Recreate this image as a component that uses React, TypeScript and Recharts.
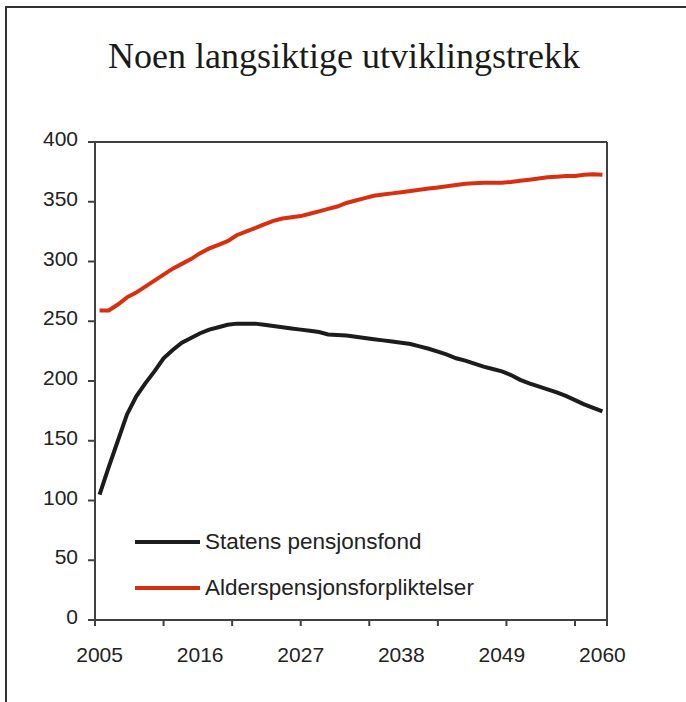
import { LineChart, Line, XAxis, YAxis, Legend, ReferenceLine } from 'recharts';

const YEARS = [
  2005, 2006, 2007, 2008, 2009, 2010, 2011, 2012, 2013, 2014,
  2015, 2016, 2017, 2018, 2019, 2020, 2021, 2022, 2023, 2024,
  2025, 2026, 2027, 2028, 2029, 2030, 2031, 2032, 2033, 2034,
  2035, 2036, 2037, 2038, 2039, 2040, 2041, 2042, 2043, 2044,
  2045, 2046, 2047, 2048, 2049, 2050, 2051, 2052, 2053, 2054,
  2055, 2056, 2057, 2058, 2059, 2060,
];

// Statens pensjonsfond
const SPF = [
  105, 128, 150, 172, 187, 198, 208, 219, 226, 232,
  236, 240, 243, 245, 247, 248, 248, 248, 247, 246,
  245, 244, 243, 242, 241, 239, 238.5, 238, 237, 236,
  235, 234, 233, 232, 231, 229, 227, 224.5, 222, 219,
  217, 214.5, 212, 210, 208, 205, 201, 198, 195.5, 193,
  190.5, 187.5, 184, 180.5, 177.5, 174.5,
];

// Alderspensjonsforpliktelser
const AP = [
  259, 259, 264, 270, 274, 279, 284, 289, 294, 298,
  302, 307, 311, 314, 317, 322, 325, 328, 331, 334,
  336, 337, 338, 340, 342, 344, 346, 349, 351, 353,
  355, 356, 357, 358, 359, 360, 361, 362, 363, 364,
  365, 365.5, 366, 366, 366, 366.5, 367.5, 368.5, 369.5, 370.5,
  371, 371.5, 371.5, 372.5, 373, 372.5,
];

const SERIES = ['Statens pensjonsfond', 'Alderspensjonsforpliktelser'];
const X_LABELS = [2005, 2016, 2027, 2038, 2049, 2060];
const X_MARKS = [2004.5, 2012, 2019.5, 2027, 2034.5, 2042, 2049.5, 2057, 2060.5];
const Y_TICKS = [0, 50, 100, 150, 200, 250, 300, 350, 400];

const data = YEARS.map((year, i) => ({ year, spf: SPF[i], ap: AP[i] }));

const AXIS = '#404040';
const TEXT = '#222';
const FONT = '"Liberation Sans", Arial, sans-serif';

function LeftTick({ x, y, payload }: any) {
  return (
    <g>
      <line x1={x} x2={x - 7} y1={y} y2={y} stroke={AXIS} strokeWidth={2} />
      <text x={x - 17} y={y} dy={4} textAnchor="end" fill={TEXT} fontSize={21} fontFamily={FONT}>
        {payload.value}
      </text>
    </g>
  );
}

function RightTick({ x, y, payload }: any) {
  return (
    <g>
      <line x1={x} x2={x + 7} y1={y} y2={y} stroke={AXIS} strokeWidth={2} />
      <text x={x + 16} y={y} dy={4} textAnchor="start" fill={TEXT} fontSize={21} fontFamily={FONT}>
        {payload.value}
      </text>
    </g>
  );
}

function BottomTick({ x, y, payload }: any) {
  const v = payload.value;
  return (
    <g>
      {X_MARKS.includes(v) && <line x1={x} x2={x} y1={y} y2={y + 6} stroke={AXIS} strokeWidth={2} />}
      {X_LABELS.includes(v) && (
        <text x={x} y={y + 42} textAnchor="middle" fill={TEXT} fontSize={21} fontFamily={FONT}>
          {v}
        </text>
      )}
    </g>
  );
}

function LegendBox({ payload }: any) {
  const items = [...(payload || [])].sort((a: any, b: any) => SERIES.indexOf(a.value) - SERIES.indexOf(b.value));
  return (
    <div style={{ fontFamily: FONT, fontSize: 22.5, color: TEXT }}>
      {items.map((p: any) => (
        <div key={p.value} style={{ display: 'flex', alignItems: 'center', height: 46 }}>
          <svg width={70} height={10}>
            <line x1={0} x2={65} y1={5} y2={5} stroke={p.color} strokeWidth={4} />
          </svg>
          <span>{p.value}</span>
        </div>
      ))}
    </div>
  );
}

const xTicks = Array.from(new Set([...X_MARKS, ...X_LABELS])).sort((a, b) => a - b);

export default function App() {
  return (
    <div style={{ position: 'absolute', left: 0, top: 0, width: 686, height: 702, background: '#fff' }}>
      <div
        style={{
          position: 'absolute', left: 5, top: 6, right: 0, bottom: 0,
          borderTop: '2px solid #333', borderLeft: '2px solid #333',
        }}
      />
      <div
        style={{
          position: 'absolute', left: 0, width: 688, top: 38, textAlign: 'center',
          fontFamily: '"Liberation Serif", "Times New Roman", serif', fontSize: 36, lineHeight: '36px', color: '#1a1a1a',
        }}
      >
        Noen langsiktige utviklingstrekk
      </div>
      <LineChart width={686} height={702} data={data} margin={{ top: 142, right: 19, bottom: 42, left: 35 }}>
        <XAxis
          dataKey="year" type="number" domain={[2004.5, 2060.5]} ticks={xTicks} interval={0}
          height={40} tickSize={0} tickMargin={0} tickLine={false} tick={<BottomTick />}
          axisLine={{ stroke: AXIS, strokeWidth: 2 }} allowDataOverflow
        />
        <YAxis
          yAxisId="left" domain={[0, 400]} ticks={Y_TICKS} interval={0} width={60}
          tickSize={0} tickMargin={0} tickLine={false} tick={<LeftTick />}
          axisLine={{ stroke: AXIS, strokeWidth: 2 }}
        />
        <YAxis
          yAxisId="right" orientation="right" domain={[0, 400]} ticks={Y_TICKS} interval={0} width={60}
          tickSize={0} tickMargin={0} tickLine={false} tick={<RightTick />}
          axisLine={{ stroke: AXIS, strokeWidth: 2 }}
        />
        <ReferenceLine yAxisId="left" y={400} stroke={AXIS} strokeWidth={2} />
        <Line yAxisId="left" dataKey="spf" name={SERIES[0]} stroke="#1c1c1c" strokeWidth={4} dot={false} isAnimationActive={false} />
        <Line yAxisId="left" dataKey="ap" name={SERIES[1]} stroke="#d8300f" strokeWidth={4} dot={false} isAnimationActive={false} />
        <Legend
          layout="vertical" align="center" verticalAlign="middle"
          content={<LegendBox />}
          wrapperStyle={{ position: 'absolute', left: 135, top: 519, width: 'auto', height: 'auto' }}
        />
      </LineChart>
    </div>
  );
}
